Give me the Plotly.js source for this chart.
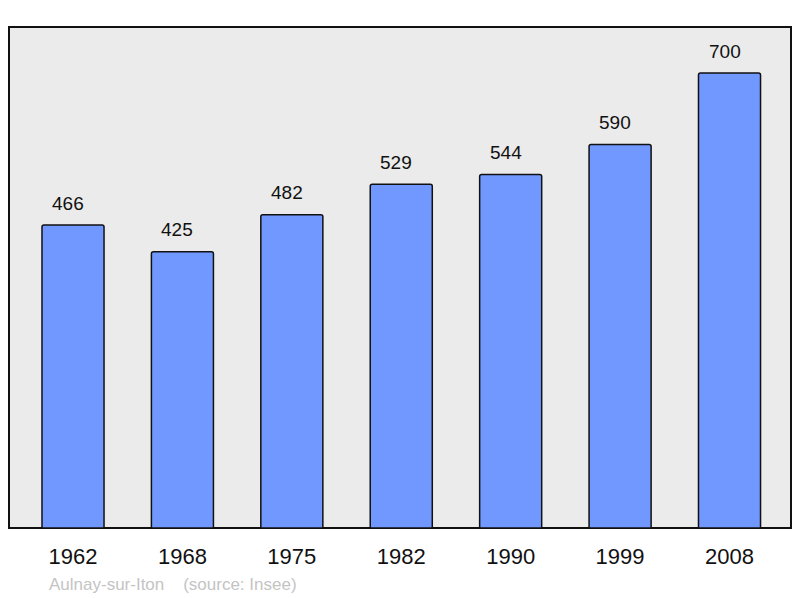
<!DOCTYPE html>
<html>
<head>
<meta charset="utf-8">
<script src="https://cdn.plot.ly/plotly-3.0.1.min.js"></script>
<style>html,body{margin:0;padding:0;background:#fff;}#chart{width:800px;height:598px;}</style>
</head>
<body>
<div id="chart"></div>
<script>
const years = ["1962", "1968", "1975", "1982", "1990", "1999", "2008"];
const population = [466, 425, 482, 529, 544, 590, 700];
const caption = "Aulnay-sur-Iton\u00a0\u00a0\u00a0\u00a0(source: Insee)";

const trace = {
  type: "bar",
  x: years,
  y: population,
  width: 0.567,
  marker: {color: "#7098ff", line: {color: "#111", width: 1.5}, cornerradius: 2},
  hoverinfo: "x+y"
};

const annotations = years.map((yr, i) => ({
  x: i, y: population[i], xref: "x", yref: "y",
  text: String(population[i]), showarrow: false,
  yanchor: "middle", yshift: 22, xshift: -5,
  font: {family: "Liberation Sans, Arial, sans-serif", size: 19, color: "#111"}
}));
annotations.push({
  xref: "paper", yref: "paper",
  x: (47 - 9) / 782, y: -(584 - 528) / 501,
  xanchor: "left", yanchor: "middle",
  text: caption, showarrow: false,
  font: {family: "Liberation Sans, Arial, sans-serif", size: 17, color: "#c4c4c4"}
});

const layout = {
  width: 800, height: 598,
  margin: {l: 9, r: 9, t: 27, b: 70},
  paper_bgcolor: "#ffffff",
  plot_bgcolor: "rgba(0,0,0,0)",
  showlegend: false,
  xaxis: {
    type: "category", range: [-0.585, 6.562],
    showgrid: false, zeroline: false, showline: false, ticks: "",
    tickfont: {family: "Liberation Sans, Arial, sans-serif", size: 22, color: "#111"},
    ticklabelstandoff: 13
  },
  yaxis: {
    range: [0, 770.8], showgrid: false, zeroline: false, showline: false,
    showticklabels: false, ticks: ""
  },
  shapes: [{
    type: "rect", xref: "paper", yref: "paper", x0: 0, x1: 1, y0: 0, y1: 1,
    fillcolor: "#ebebeb", line: {color: "#111", width: 2}, layer: "below"
  }],
  annotations: annotations
};

Plotly.newPlot("chart", [trace], layout, {staticPlot: true, displayModeBar: false});
</script>
</body>
</html>
